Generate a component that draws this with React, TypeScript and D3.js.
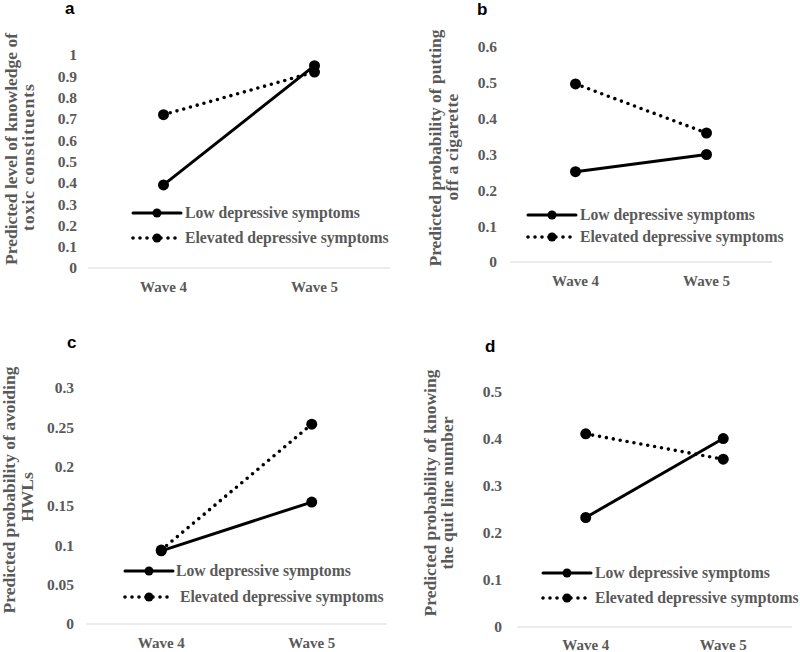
import React from "react";
import * as d3 from "d3";

// ---- Data ----
const categories = ["Wave 4", "Wave 5"];
const seriesNames = ["Low depressive symptoms", "Elevated depressive symptoms"];

const lowA = [0.39, 0.95];
const elevA = [0.72, 0.92];
const ticksA = [0, 0.1, 0.2, 0.3, 0.4, 0.5, 0.6, 0.7, 0.8, 0.9, 1];
const titleA = ["Predicted level of knowledge of", "toxic constituents"];

const lowB = [0.252, 0.3];
const elevB = [0.497, 0.36];
const ticksB = [0, 0.1, 0.2, 0.3, 0.4, 0.5, 0.6];
const titleB = ["Predicted probability of putting", "off a cigarette"];

const lowC = [0.093, 0.155];
const elevC = [0.094, 0.254];
const ticksC = [0, 0.05, 0.1, 0.15, 0.2, 0.25, 0.3];
const titleC = ["Predicted probability of avoiding", "HWLs"];

const lowD = [0.233, 0.401];
const elevD = [0.411, 0.357];
const ticksD = [0, 0.1, 0.2, 0.3, 0.4, 0.5];
const titleD = ["Predicted probability of knowing", "the quit line number"];

// ---- Layout ----
type Panel = {
  label: string;
  labelX: number;
  labelY: number;
  low: number[];
  elev: number[];
  ticks: number[];
  title: string[];
  x0: number;
  x1: number;
  yZero: number;
  yMax: number;
  tickRight: number;
  catY: number;
  titleX: [number, number];
  titleCY: [number, number];
  titleSpacing: [number, number];
  legX: number;
  legY: [number, number];
  legTextX: [number, number];
};

const panels: Panel[] = [
  {
    label: "a", labelX: 65, labelY: 14,
    low: lowA, elev: elevA, ticks: ticksA, title: titleA,
    x0: 88, x1: 390, yZero: 268, yMax: 55, tickRight: 77, catY: 292,
    titleX: [17, 34], titleCY: [149, 157], titleSpacing: [0, 1],
    legX: 133, legY: [213, 238], legTextX: [185, 185],
  },
  {
    label: "b", labelX: 477, labelY: 15,
    low: lowB, elev: elevB, ticks: ticksB, title: titleB,
    x0: 510, x1: 772, yZero: 262, yMax: 47, tickRight: 497, catY: 286,
    titleX: [441, 458], titleCY: [148, 147], titleSpacing: [0, 0.3],
    legX: 528, legY: [215, 237], legTextX: [580, 580],
  },
  {
    label: "c", labelX: 67, labelY: 348,
    low: lowC, elev: elevC, ticks: ticksC, title: titleC,
    x0: 86, x1: 387, yZero: 624, yMax: 388, tickRight: 74, catY: 648,
    titleX: [15, 33], titleCY: [490, 497], titleSpacing: [0, 0],
    legX: 125, legY: [571, 597], legTextX: [176, 180],
  },
  {
    label: "d", labelX: 485, labelY: 352,
    low: lowD, elev: elevD, ticks: ticksD, title: titleD,
    x0: 517, x1: 792, yZero: 627, yMax: 392, tickRight: 502, catY: 650,
    titleX: [436, 453], titleCY: [493, 493], titleSpacing: [0, 0],
    legX: 543, legY: [573, 598], legTextX: [595, 595],
  },
];

const GRAY = "#595959";
const SERIF = "'Liberation Serif', 'Times New Roman', serif";
const SANS = "'Liberation Sans', Arial, sans-serif";
const fmt = (v: number) => String(+v.toFixed(2));

function PanelChart({ p }: { p: Panel }) {
  const x = d3.scalePoint<string>().domain(categories).range([p.x0, p.x1]).padding(0.5);
  const maxT = p.ticks[p.ticks.length - 1];
  const y = d3.scaleLinear().domain([0, maxT]).range([p.yZero, p.yMax]);
  const line = d3
    .line<number>()
    .x((_, i) => x(categories[i]) as number)
    .y((d) => y(d));
  const series = [
    { name: seriesNames[0], values: p.low, dash: undefined as string | undefined, width: 3 },
    { name: seriesNames[1], values: p.elev, dash: "0 7", width: 3.6 },
  ];
  return (
    <g>
      <text x={p.labelX} y={p.labelY} fontFamily={SANS} fontWeight="bold" fontSize={17} fill="#000">
        {p.label}
      </text>
      {p.ticks.map((t) => (
        <text
          key={t}
          x={p.tickRight}
          y={y(t)}
          dy="0.35em"
          textAnchor="end"
          fontFamily={SERIF}
          fontWeight="bold"
          fontSize={15.5}
          fill={GRAY}
        >
          {fmt(t)}
        </text>
      ))}
      <line x1={p.x0} x2={p.x1} y1={p.yZero} y2={p.yZero} stroke="#d9d9d9" strokeWidth={1} />
      {categories.map((c) => (
        <text
          key={c}
          x={x(c)}
          y={p.catY}
          textAnchor="middle"
          fontFamily={SERIF}
          fontWeight="bold"
          fontSize={15}
          fill={GRAY}
        >
          {c}
        </text>
      ))}
      {p.title.map((t, i) => (
        <text
          key={i}
          transform={`translate(${p.titleX[i]},${p.titleCY[i]}) rotate(-90)`}
          textAnchor="middle"
          fontFamily={SERIF}
          fontWeight="bold"
          fontSize={17.5}
          fill={GRAY}
          letterSpacing={p.titleSpacing[i]}
        >
          {t}
        </text>
      ))}
      {series.map((s, si) => (
        <g key={si}>
          <path
            d={line(s.values) || ""}
            fill="none"
            stroke="#000"
            strokeWidth={s.width}
            strokeDasharray={s.dash}
            strokeLinecap="round"
          />
          {s.values.map((v, i) => (
            <circle key={i} cx={x(categories[i])} cy={y(v)} r={5.5} fill="#000" />
          ))}
        </g>
      ))}
      {series.map((s, si) => (
        <g key={"leg" + si}>
          <line
            x1={p.legX}
            x2={p.legX + 48}
            y1={p.legY[si]}
            y2={p.legY[si]}
            stroke="#000"
            strokeWidth={s.width}
            strokeDasharray={s.dash}
            strokeLinecap="round"
          />
          <circle cx={p.legX + 24} cy={p.legY[si]} r={4.5} fill="#000" />
          <text
            x={p.legTextX[si]}
            y={p.legY[si]}
            dy="0.35em"
            fontFamily={SERIF}
            fontWeight="bold"
            fontSize={15.7}
            fill={GRAY}
          >
            {s.name}
          </text>
        </g>
      ))}
    </g>
  );
}

export default function App() {
  return (
    <svg
      width={800}
      height={652}
      style={{ position: "absolute", left: 0, top: 0, background: "#fff" }}
    >
      <rect width={800} height={652} fill="#fff" />
      {panels.map((p) => (
        <PanelChart key={p.label} p={p} />
      ))}
    </svg>
  );
}
